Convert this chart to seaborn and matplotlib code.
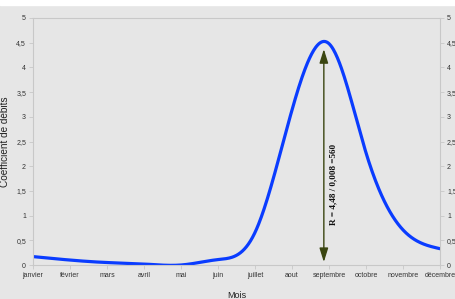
import numpy as np
import matplotlib
matplotlib.use("Agg")
import matplotlib.pyplot as plt
import seaborn as sns

mois = ["janvier", "février", "mars", "avril", "mai", "juin", "juillet",
        "aout", "septembre", "octobre", "novembre", "décembre"]
coef = [0.17, 0.10, 0.05, 0.02, 0.0, 0.11, 0.66, 3.14, 4.48, 2.27, 0.71, 0.33]
yticks = [0, 0.5, 1, 1.5, 2, 2.5, 3, 3.5, 4, 4.5, 5]
ytick_labels = ["0", "0,5", "1", "1,5", "2", "2,5", "3", "3,5", "4", "4,5", "5"]
annot_text = "R = 4,48 / 0,008 =560"


def natural_spline(x, y, n=600):
    x = np.asarray(x, float); y = np.asarray(y, float)
    m = len(x); h = np.diff(x)
    A = np.zeros((m, m)); b = np.zeros(m)
    A[0, 0] = A[-1, -1] = 1
    for i in range(1, m - 1):
        A[i, i - 1] = h[i - 1]; A[i, i] = 2 * (h[i - 1] + h[i]); A[i, i + 1] = h[i]
        b[i] = 3 * ((y[i + 1] - y[i]) / h[i] - (y[i] - y[i - 1]) / h[i - 1])
    c = np.linalg.solve(A, b)
    xs = np.linspace(x[0], x[-1], n)
    idx = np.clip(np.searchsorted(x, xs) - 1, 0, m - 2)
    dx = xs - x[idx]
    bb = (y[1:] - y[:-1]) / h - h * (2 * c[:-1] + c[1:]) / 3
    d = (c[1:] - c[:-1]) / (3 * h)
    ys = y[idx] + bb[idx] * dx + c[idx] * dx ** 2 + d[idx] * dx ** 3
    return xs, ys


sns.set_theme(style="white")
plt.rcParams['font.family'] = ['Liberation Sans', 'DejaVu Sans']

bg = "#e6e6e6"
fig = plt.figure(figsize=(4.56, 2.99), dpi=100, facecolor=bg)
fig.patches.append(plt.Rectangle((0, 0.983), 1, 0.02, transform=fig.transFigure,
                                 color="white", zorder=-1))
ax = fig.add_axes([0.0724, 0.1137, 0.8926, 0.8261])
ax.set_facecolor(bg)

xs, ys = natural_spline(np.arange(len(coef)), coef)
sns.lineplot(x=xs, y=ys, ax=ax, color="#0a3cff", linewidth=2.3, sort=False)

ax.set_xlim(0, len(mois) - 1)
ax.set_ylim(0, 5)
ax.set_xticks(range(len(mois)))
ax.set_xticklabels(mois)
ax.set_yticks(yticks)
ax.set_yticklabels(ytick_labels)
gc = "#c8c8c8"
for s in ax.spines.values():
    s.set_color(gc); s.set_linewidth(0.8)
ax.tick_params(axis="both", length=3, width=0.6, color=gc, labelsize=5,
               labelcolor="#333333", pad=2, left=True, bottom=True)
ax.set_xlabel("Mois", fontsize=6.5, color="#222222", labelpad=9)
ax.set_ylabel("Coefficient de débits", fontsize=7.2, color="#222222")
ax.yaxis.set_label_coords(-0.057, 0.5)

ax2 = ax.twinx()
ax2.set_ylim(0, 5)
ax2.set_yticks(yticks)
ax2.set_yticklabels(ytick_labels)
for s in ax2.spines.values():
    s.set_visible(False)
ax2.tick_params(axis="y", length=3, width=0.6, color=gc, labelsize=5,
                labelcolor="#333333", pad=2, right=True)

# annotation arrow at peak of the smoothed curve
xpk = xs[np.argmax(ys)]
ax.annotate("", xy=(xpk, max(coef) - 0.11), xytext=(xpk, 0.06),
            arrowprops=dict(arrowstyle="<|-|>,head_length=0.7,head_width=0.22",
                            color="#3a4510", lw=1.0, shrinkA=0, shrinkB=0))
ax.text(xpk + 0.27, 1.64, annot_text, rotation=90, ha="center", va="center",
        fontsize=6.6, fontweight="bold", family=["Liberation Serif", "DejaVu Serif"],
        color="#111111")

fig.savefig("out.png", dpi=100, facecolor=bg)
